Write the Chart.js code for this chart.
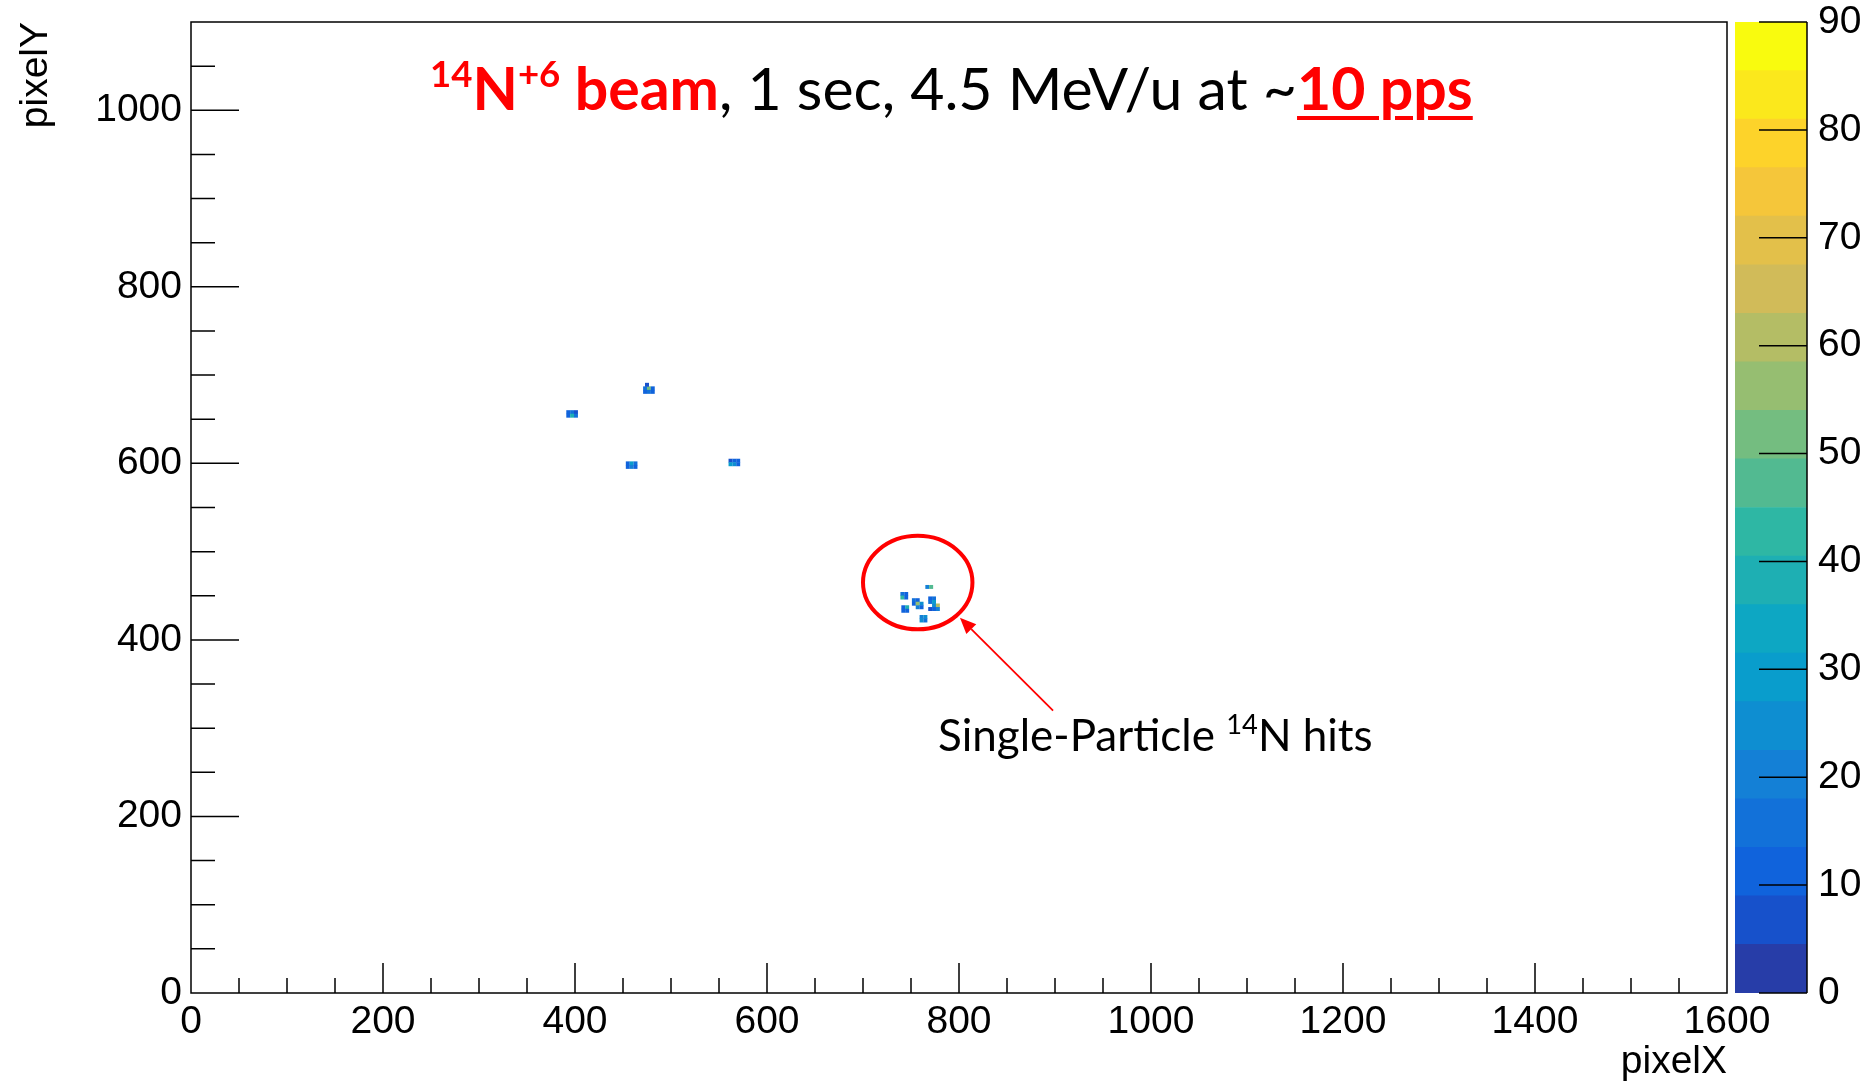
<!DOCTYPE html>
<html>
<head>
<meta charset="utf-8">
<title>14N hits</title>
<script src="https://cdn.jsdelivr.net/npm/chart.js@4.4.1/dist/chart.umd.min.js"></script>
<style>
	html, body { margin: 0; padding: 0; background: #fff; }
	body { width: 1873px; height: 1084px; position: relative; overflow: hidden; }
	#canHits { position: absolute; left: 0; top: 0; }
	#canPalette { position: absolute; left: 1735px; top: 0; }
	.note { position: absolute; font-family: Lato, 'Open Sans', sans-serif; line-height: 1; white-space: nowrap; color: #000; }
	.note sup { font-size: 0.62em; vertical-align: 0.62em; line-height: 0; }
	.red { color: #ff0000; }
	.b { font-weight: bold; }
	.u { text-decoration: underline; text-decoration-thickness: 4px; text-underline-offset: 6px; }
</style>
</head>
<body>
<canvas id="canHits" width="1873" height="1084"></canvas>
<canvas id="canPalette" width="138" height="1084"></canvas>

<div id="divTitle" class="note" style="left:430px; top:58px; font-size:59px;"><span class="red b"><sup>14</sup>N<sup>+6</sup> beam</span>, 1 sec, 4.5 MeV/u at ~<span class="red b u">10 pps</span></div>
<div id="divNote" class="note" style="left:938px; top:712px; font-size:44px;">Single-Particle <sup>14</sup>N hits</div>

<script>
'use strict'

//////////////////////////////////////////////////////////////////////
// data : hit cells (bin centre in pixelX / pixelY, bin content)
const cellX = [
	393, 397, 401, 393, 397, 401,                 // hit A
	473, 477, 481, 473, 477, 481, 475,            // hit B
	455, 459, 463, 455, 459, 463,                 // hit C
	562, 566, 570, 562, 566, 570,                 // hit D
	767, 771,                                     // hit E
	741, 745, 741, 745,                           // hit F
	742, 746, 742, 746,                           // hit G
	753, 757, 753, 757, 761, 757, 761,            // hit H
	770, 774, 770, 774, 774, 778, 770, 774, 778,  // hit I
	761, 765, 761, 765                            // hit J
];
const cellY = [
	658, 658, 658, 654, 654, 654,
	685, 685, 685, 681, 681, 681, 689,
	600, 600, 600, 596, 596, 596,
	603, 603, 603, 599, 599, 599,
	460, 460,
	452, 452, 448, 448,
	437, 437, 433, 433,
	445, 445, 441, 441, 441, 437, 437,
	447, 447, 443, 443, 439, 439, 435, 435, 435,
	426, 426, 422, 422
];
const cellZ = [
	10, 14, 8, 12, 40, 16,
	14, 50, 12, 10, 16, 9, 7,
	12, 28, 14, 9, 22, 11,
	8, 10, 12, 30, 24, 9,
	20, 46,
	14, 9, 42, 11,
	10, 38, 9, 12,
	16, 11, 12, 58, 26, 22, 9,
	10, 14, 16, 30, 24, 60, 8, 12, 18,
	18, 26, 24, 14
];

// axis tick labels
const xTickLabels = [0, 200, 400, 600, 800, 1000, 1200, 1400, 1600];
const yTickLabels = [0, 200, 400, 600, 800, 1000];

// colour scale contours (z)
const zContours = [0, 4.5, 9, 13.5, 18, 22.5, 27, 31.5, 36, 40.5, 45, 49.5, 54, 58.5, 63, 67.5, 72, 76.5, 81, 85.5, 90];

// annotation (in pixelX / pixelY units)
const noteEllipse = { x: 757, y: 465, rx: 57, ry: 53 };
const noteArrowFrom = { x: 898, y: 320 };
const noteArrowTo = { x: 801, y: 425 };


//////////////////////////////////////////////////////////////////////
// ROOT kBird palette
const birdStops = [0, 0.125, 0.25, 0.375, 0.5, 0.625, 0.75, 0.875, 1];
const birdR = [0.2082, 0.0592, 0.0780, 0.0232, 0.1802, 0.5301, 0.8186, 0.9956, 0.9764];
const birdG = [0.1664, 0.3599, 0.5041, 0.6419, 0.7178, 0.7492, 0.7328, 0.7862, 0.9832];
const birdB = [0.5293, 0.8684, 0.8385, 0.7914, 0.6425, 0.4662, 0.3499, 0.1968, 0.0539];

let birdColor = function (t) {
	let i = 0;
	while (i < birdStops.length - 2 && t > birdStops[i + 1]) { i++; }
	const f = (t - birdStops[i]) / (birdStops[i + 1] - birdStops[i]);
	const c = (a) => Math.round(255 * (a[i] + (a[i + 1] - a[i]) * f));
	return 'rgb(' + c(birdR) + ',' + c(birdG) + ',' + c(birdB) + ')';
};

// 色はROOTと同じく、コンター番号から255色パレットのindexを選ぶ
const nBands = zContours.length - 1;
let bandColor = function (band) {
	const idx = Math.floor((band + 0.99) * 255 / nBands);
	return birdColor(Math.min(idx, 254) / 254);
};
let zColor = function (z) {
	let band = 0;
	while (band < nBands - 1 && z >= zContours[band + 1]) { band++; }
	return bandColor(band);
};


//////////////////////////////////////////////////////////////////////
Chart.defaults.font.family = "'Liberation Sans', Arial, Helvetica, sans-serif";
Chart.defaults.font.size = 39;
Chart.defaults.color = '#000';

// 枠と内向きの目盛り
const rootFrame = {
	id: 'rootFrame',
	afterDraw(chart) {
		const { ctx, chartArea: a, scales } = chart;
		ctx.save();
		ctx.strokeStyle = '#000';
		ctx.lineWidth = 1.5;
		ctx.strokeRect(a.left, a.top, a.right - a.left, a.bottom - a.top);

		ctx.beginPath();
		for (const t of scales.x.ticks) {
			if (t.value <= scales.x.min || t.value >= scales.x.max) continue;
			const px = scales.x.getPixelForValue(t.value);
			const len = xTickLabels.includes(t.value) ? 30 : 15;
			ctx.moveTo(px, a.bottom);
			ctx.lineTo(px, a.bottom - len);
		}
		for (const t of scales.y.ticks) {
			if (t.value <= scales.y.min || t.value >= scales.y.max) continue;
			const py = scales.y.getPixelForValue(t.value);
			const len = yTickLabels.includes(t.value) ? 48 : 24;
			ctx.moveTo(a.left, py);
			ctx.lineTo(a.left + len, py);
		}
		ctx.stroke();
		ctx.restore();
	}
};

// 赤丸と矢印
const hitNote = {
	id: 'hitNote',
	afterDatasetsDraw(chart) {
		const { ctx, scales: { x, y } } = chart;
		ctx.save();
		ctx.strokeStyle = '#ff0000';
		ctx.fillStyle = '#ff0000';

		const cx = x.getPixelForValue(noteEllipse.x);
		const cy = y.getPixelForValue(noteEllipse.y);
		const rx = Math.abs(x.getPixelForValue(noteEllipse.x + noteEllipse.rx) - cx);
		const ry = Math.abs(y.getPixelForValue(noteEllipse.y + noteEllipse.ry) - cy);
		ctx.lineWidth = 4;
		ctx.beginPath();
		ctx.ellipse(cx, cy, rx, ry, 0, 0, Math.PI * 2);
		ctx.stroke();

		const x0 = x.getPixelForValue(noteArrowFrom.x), y0 = y.getPixelForValue(noteArrowFrom.y);
		const x1 = x.getPixelForValue(noteArrowTo.x), y1 = y.getPixelForValue(noteArrowTo.y);
		const ang = Math.atan2(y1 - y0, x1 - x0);
		const headLen = 16, headW = 7;
		const bx = x1 - headLen * Math.cos(ang), by = y1 - headLen * Math.sin(ang);
		ctx.lineWidth = 1.8;
		ctx.beginPath();
		ctx.moveTo(x0, y0);
		ctx.lineTo(bx, by);
		ctx.stroke();
		ctx.beginPath();
		ctx.moveTo(x1, y1);
		ctx.lineTo(bx + headW * Math.sin(ang), by - headW * Math.cos(ang));
		ctx.lineTo(bx - headW * Math.sin(ang), by + headW * Math.cos(ang));
		ctx.closePath();
		ctx.fill();
		ctx.restore();
	}
};

// 軸ラベルのはみ出し分でchartAreaが縮まないようにする
let fixPadding = function (s) {
	s.paddingTop = 0;
	s.paddingBottom = 0;
};

let hitPoints = [];
let hitColors = [];
for (let i = 0; i < cellX.length; i++) {
	hitPoints.push({ x: cellX[i], y: cellY[i] });
	hitColors.push(zColor(cellZ[i]));
}

const ctxHits = document.getElementById('canHits').getContext('2d');
let myChartHits = new Chart(ctxHits, {
	type: 'scatter',
	data: {
		datasets: [{
			label: 'hits',
			data: hitPoints,
			backgroundColor: hitColors,
			pointStyle: 'rect',
			pointRadius: 2.8,
			pointBorderWidth: 0,
			pointHoverRadius: 2.8
		}]
	},
	options: {
		responsive: false,
		animation: false,
		events: [],
		layout: { padding: { left: 0, top: 22, right: 146, bottom: 0 } },
		plugins: { legend: { display: false }, tooltip: { enabled: false } },
		scales: {
			x: {
				type: 'linear', position: 'bottom', min: 0, max: 1600,
				grid: { display: false, drawTicks: false }, border: { display: false },
				ticks: {
					stepSize: 50, autoSkip: false, maxRotation: 0, padding: 6,
					callback: (v) => xTickLabels.includes(v) ? String(v) : ''
				},
				title: { display: true, text: 'pixelX', align: 'end', padding: { top: 0, bottom: -1.5 } },
				afterFit: (s) => { s.height = 91; }
			},
			y: {
				type: 'linear', position: 'left', min: 0, max: 1100,
				grid: { display: false, drawTicks: false }, border: { display: false },
				ticks: {
					stepSize: 50, autoSkip: false, padding: 9,
					callback: (v) => yTickLabels.includes(v) ? String(v) : ''
				},
				title: { display: true, text: 'pixelY', align: 'end', padding: { top: 13, bottom: 0 } },
				afterFit: (s) => { s.width = 191; fixPadding(s); }
			}
		}
	},
	plugins: [rootFrame, hitNote]
});


//////////////////////////////////////////////////////////////////////
// palette (z axis)
const paletteAxis = {
	id: 'paletteAxis',
	afterDraw(chart) {
		const { ctx, chartArea: a, scales: { y } } = chart;
		ctx.save();
		ctx.strokeStyle = '#000';
		ctx.lineWidth = 1.5;
		ctx.beginPath();
		ctx.moveTo(a.right, a.top);
		ctx.lineTo(a.right, a.bottom);
		for (const t of y.ticks) {
			const py = y.getPixelForValue(t.value);
			ctx.moveTo(a.right, py);
			ctx.lineTo(a.right - 48, py);
		}
		ctx.stroke();
		ctx.restore();
	}
};

let datasetsPalette = [];
for (let i = 0; i < nBands; i++) {
	datasetsPalette.push({
		label: 'z' + i,
		data: [zContours[i + 1] - zContours[i]],
		backgroundColor: bandColor(i),
		borderWidth: 0
	});
}

const ctxPalette = document.getElementById('canPalette').getContext('2d');
let myChartPalette = new Chart(ctxPalette, {
	type: 'bar',
	data: { labels: ['z'], datasets: datasetsPalette },
	options: {
		responsive: false,
		animation: false,
		events: [],
		barPercentage: 1,
		categoryPercentage: 1,
		layout: { padding: { left: 0, top: 22, right: 0, bottom: 91 } },
		plugins: { legend: { display: false }, tooltip: { enabled: false } },
		scales: {
			x: { display: false, stacked: true },
			y: {
				position: 'right', stacked: true, min: 0, max: 90,
				grid: { display: false, drawTicks: false }, border: { display: false },
				ticks: { stepSize: 10, padding: 11 },
				afterFit: (s) => { s.width = 66; fixPadding(s); }
			}
		}
	},
	plugins: [paletteAxis]
});
</script>
</body>
</html>
